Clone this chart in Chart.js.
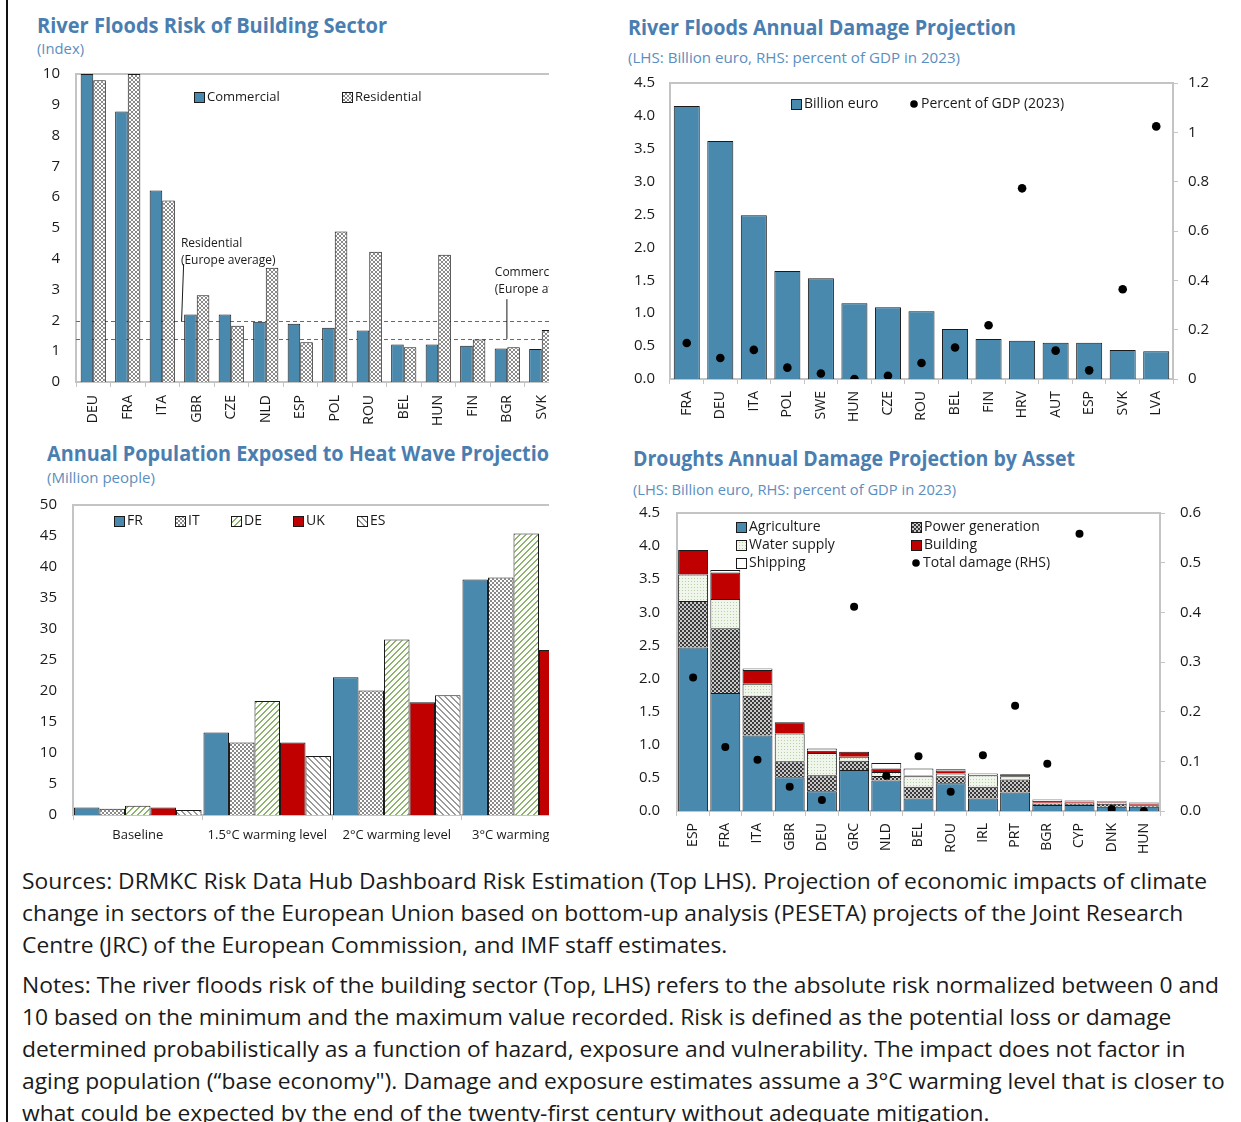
<!DOCTYPE html>
<html>
<head>
<meta charset="utf-8">
<title>Climate damage projections</title>
<script src="https://cdn.jsdelivr.net/npm/chart.js@4.4.1/dist/chart.umd.min.js"></script>
<style>
  html, body { margin: 0; padding: 0; background: #fff; }
  body { position: relative; width: 1241px; height: 1122px; overflow: hidden; font-family: "Open Sans", sans-serif; }
  .edge { position: absolute; left: 6px; top: 0; width: 2px; height: 1122px; background: #111; }
  .title { position: absolute; font-size: 21px; font-weight: 700; color: #4a7eb0; white-space: nowrap; line-height: 1; transform-origin: 0 0; }
  .sub { position: absolute; font-size: 14px; color: #5b8ec0; white-space: nowrap; line-height: 1; transform-origin: 0 0; }
  .holder { position: absolute; overflow: hidden; }
  .holder canvas { position: absolute; }
  .notes { position: absolute; left: 22px; font-size: 22px; line-height: 32px; color: #1a1a1a; white-space: nowrap; transform-origin: 0 0; }
</style>
</head>
<body>
<div class="edge"></div>

<div class="title" id="t1" style="left:37px;top:15px">River Floods Risk of Building Sector</div>
<div class="sub" id="s1" style="left:37px;top:42px">(Index)</div>
<div class="title" id="t2" style="left:628px;top:17px">River Floods Annual Damage Projection</div>
<div class="sub" id="s2" style="left:628px;top:51px">(LHS: Billion euro, RHS: percent of GDP in 2023)</div>
<div class="holder" style="left:0;top:440px;width:549px;height:50px">
  <div class="title" id="t3" style="left:47px;top:3px">Annual Population Exposed to Heat Wave Projections</div>
</div>
<div class="sub" id="s3" style="left:47px;top:471px">(Million people)</div>
<div class="title" id="t4" style="left:633px;top:448px">Droughts Annual Damage Projection by Asset</div>
<div class="sub" id="s4" style="left:633px;top:483px">(LHS: Billion euro, RHS: percent of GDP in 2023)</div>

<div class="holder" id="h1" style="left:0;top:0;width:549px;height:440px"></div>
<div class="holder" id="h2" style="left:560px;top:0;width:681px;height:440px"></div>
<div class="holder" id="h3" style="left:0;top:440px;width:549px;height:420px"></div>
<div class="holder" id="h4" style="left:560px;top:440px;width:681px;height:420px"></div>

<div class="notes" id="n1" style="top:864px">Sources: DRMKC Risk Data Hub Dashboard Risk Estimation (Top LHS). Projection of economic impacts of climate<br>change in sectors of the European Union based on bottom-up analysis (PESETA) projects of the Joint Research<br>Centre (JRC) of the European Commission, and IMF staff estimates.</div>
<div class="notes" id="n2" style="top:968px">Notes: The river floods risk of the building sector (Top, LHS) refers to the absolute risk normalized between 0 and<br>10 based on the minimum and the maximum value recorded. Risk is defined as the potential loss or damage<br>determined probabilistically as a function of hazard, exposure and vulnerability. The impact does not factor in<br>aging population (“base economy"). Damage and exposure estimates assume a 3°C warming level that is closer to<br>what could be expected by the end of the twenty-first century without adequate mitigation.</div>

<script>
// ---- top left: river floods risk index ----
const riskCountries = ['DEU', 'FRA', 'ITA', 'GBR', 'CZE', 'NLD', 'ESP', 'POL', 'ROU', 'BEL', 'HUN', 'FIN', 'BGR', 'SVK'];
const riskCommercial = [10.0, 8.78, 6.22, 2.19, 2.19, 1.96, 1.89, 1.76, 1.67, 1.22, 1.22, 1.18, 1.09, 1.07];
const riskResidential = [9.8, 10.0, 5.89, 2.82, 1.83, 3.71, 1.29, 4.89, 4.23, 1.13, 4.13, 1.38, 1.13, 1.69];
const riskAvgResidential = 1.98;
const riskAvgCommercial = 1.40;

// ---- top right: river floods annual damage ----
const floodCountries = ['FRA', 'DEU', 'ITA', 'POL', 'SWE', 'HUN', 'CZE', 'ROU', 'BEL', 'FIN', 'HRV', 'AUT', 'ESP', 'SVK', 'LVA'];
const floodBillion = [4.15, 3.62, 2.49, 1.64, 1.53, 1.15, 1.09, 1.03, 0.76, 0.61, 0.58, 0.55, 0.55, 0.44, 0.42];
const floodPctGdp = [0.146, 0.085, 0.118, 0.046, 0.022, 0.0, 0.013, 0.065, 0.128, 0.218, 0.773, 0.115, 0.035, 0.364, 1.024];

// ---- bottom left: population exposed to heat waves ----
const heatScenarios = ['Baseline', '1.5°C warming level', '2°C warming level', '3°C warming level'];
const heatFR = [1.2, 13.3, 22.2, 38.0];
const heatIT = [1.0, 11.7, 20.1, 38.3];
const heatDE = [1.5, 18.4, 28.3, 45.4];
const heatUK = [1.2, 11.7, 18.2, 26.6];
const heatES = [0.8, 9.5, 19.3, 30.0];

// ---- bottom right: droughts damage by asset ----
const droughtCountries = ['ESP', 'FRA', 'ITA', 'GBR', 'DEU', 'GRC', 'NLD', 'BEL', 'ROU', 'IRL', 'PRT', 'BGR', 'CYP', 'DNK', 'HUN'];
const droughtAgriculture = [2.47, 1.78, 1.14, 0.51, 0.30, 0.62, 0.46, 0.19, 0.42, 0.19, 0.28, 0.09, 0.09, 0.065, 0.065];
const droughtPower = [0.70, 0.98, 0.60, 0.24, 0.24, 0.14, 0.07, 0.175, 0.105, 0.175, 0.195, 0.02, 0.015, 0.045, 0.02];
const droughtWater = [0.40, 0.44, 0.18, 0.42, 0.335, 0.06, 0.06, 0.16, 0.04, 0.175, 0.05, 0.015, 0.02, 0.02, 0.01];
const droughtBuilding = [0.37, 0.40, 0.21, 0.17, 0.035, 0.075, 0.05, 0.01, 0.045, 0.005, 0.03, 0.03, 0.02, 0.01, 0.02];
const droughtShipping = [0.0, 0.04, 0.02, 0.0, 0.035, 0.0, 0.085, 0.105, 0.02, 0.02, 0.0, 0.02, 0.015, 0.01, 0.015];
const droughtTotalPct = [0.269, 0.129, 0.103, 0.049, 0.022, 0.411, 0.071, 0.110, 0.039, 0.112, 0.212, 0.095, 0.558, 0.004, 0.0];

Chart.defaults.font.family = '"Open Sans", sans-serif';
Chart.defaults.font.size = 14;
Chart.defaults.color = '#1a1a1a';
Chart.defaults.animation = false;
Chart.defaults.events = [];

const AXIS = '#c4c4c4';
const BLUE = '#4a89ae';
const RED = '#c00000';
const EDGE = '#1a1a1a';
const PAD_TOP = 32; // room above the plot; tick padding adds to the label overflow

// pixel hatch tiles, crisp at dpr 1
function hatch(bg, fg, size, dirs, thick) {
  const c = document.createElement('canvas');
  c.width = c.height = size;
  const g = c.getContext('2d');
  g.fillStyle = bg;
  g.fillRect(0, 0, size, size);
  g.fillStyle = fg;
  for (let i = 0; i < size; i++) {
    for (let k = 0; k < thick; k++) {
      if (dirs.includes('/')) g.fillRect((i + k) % size, size - 1 - i, 1, 1);
      if (dirs.includes('\\')) g.fillRect((i + k) % size, i, 1, 1);
    }
  }
  return g.createPattern(c, 'repeat');
}
function dots(bg, fg) {
  const c = document.createElement('canvas');
  c.width = c.height = 3;
  const g = c.getContext('2d');
  g.fillStyle = bg; g.fillRect(0, 0, 3, 3);
  g.fillStyle = fg; g.fillRect(1, 1, 1, 1);
  return g.createPattern(c, 'repeat');
}

const pat = {
  grayMesh: hatch('#ffffff', '#8a8a8a', 4, ['/', '\\'], 1),
  darkMesh: hatch('#c8c8c8', '#3a3a3a', 4, ['/', '\\'], 1),
  green: hatch('#ffffff', '#8cb46a', 6, ['/'], 2),
  grayStripe: hatch('#ffffff', '#9a9a9a', 6, ['\\'], 2),
  water: dots('#f1f6ec', '#b9d1a8')
};

// plotTop is the page y of the top of the plot area
function placeCanvas(holderId, pageLeft, plotTop, width, height) {
  const holder = document.getElementById(holderId);
  const cv = document.createElement('canvas');
  cv.width = width;
  cv.height = height + PAD_TOP;
  cv.style.left = (pageLeft - holder.offsetLeft) + 'px';
  cv.style.top = (plotTop - PAD_TOP - holder.offsetTop) + 'px';
  holder.appendChild(cv);
  return cv;
}

function catAxis(height, rotate, pad, size) {
  return {
    grid: { display: true, drawOnChartArea: false, drawTicks: true, tickLength: 5, color: AXIS, offset: true },
    border: { color: AXIS, width: 2 },
    ticks: { autoSkip: false, minRotation: rotate ? 90 : 0, maxRotation: rotate ? 90 : 0, padding: pad, font: { size: size } },
    afterFit: (s) => { s.height = height; }
  };
}

function valueAxis(max, step, pad, fmt, right) {
  return {
    position: right ? 'right' : 'left',
    min: 0,
    max: max,
    grid: right
      ? { display: true, drawOnChartArea: false, drawTicks: true, tickLength: 5, color: AXIS }
      : { display: false, drawTicks: false },
    border: { color: AXIS, width: 2 },
    ticks: { stepSize: step, padding: pad, callback: fmt, font: { size: 15 } },
    afterFit: (s) => { s.width = 50; }
  };
}

function frame(sides) {
  return {
    id: 'frame',
    beforeDatasetsDraw(chart) {
      const { ctx, chartArea: a } = chart;
      ctx.save();
      ctx.strokeStyle = AXIS;
      ctx.lineWidth = 2;
      ctx.beginPath();
      if (sides.includes('top')) { ctx.moveTo(a.left, a.top); ctx.lineTo(a.right, a.top); }
      if (sides.includes('right')) { ctx.moveTo(a.right, a.top); ctx.lineTo(a.right, a.bottom); }
      ctx.stroke();
      ctx.restore();
    }
  };
}

function legendBoxes(items, size) {
  return {
    id: 'legendBoxes',
    afterDraw(chart) {
      const { ctx, chartArea } = chart;
      ctx.save();
      ctx.font = size + 'px "Open Sans", sans-serif';
      ctx.textBaseline = 'middle';
      items.forEach((it) => {
        const x = chartArea.left + it.dx;
        const y = chartArea.top + it.dy;
        if (it.dot) {
          ctx.fillStyle = '#000';
          ctx.beginPath();
          ctx.arc(x + 4, y, 3.8, 0, Math.PI * 2);
          ctx.fill();
        } else {
          ctx.fillStyle = it.fill;
          ctx.fillRect(x, y - 5, 10, 10);
          ctx.strokeStyle = EDGE;
          ctx.lineWidth = 1;
          ctx.strokeRect(x + 0.5, y - 4.5, 10, 10);
        }
        ctx.fillStyle = '#1a1a1a';
        ctx.fillText(it.text, x + (it.dot ? 11 : 13), y);
      });
      ctx.restore();
    }
  };
}

// europe average lines + labels on the risk chart
const riskNotes = [
  { lines: ['Residential', '(Europe average)'], at: [2.54, 4.51], from: [2.62, 3.83], to: [2.56, riskAvgResidential] },
  { lines: ['Commercial', '(Europe average)'], at: [11.64, 3.54], from: [11.99, 2.69], to: [11.99, riskAvgCommercial] }
];
const riskLines = {
  id: 'riskLines',
  beforeDatasetsDraw(chart) {
    const { ctx, chartArea: a, scales: { y } } = chart;
    ctx.save();
    ctx.strokeStyle = '#d63a34';
    ctx.lineWidth = 1;
    ctx.setLineDash([4, 3]);
    [riskAvgResidential, riskAvgCommercial].forEach((v) => {
      const py = Math.round(y.getPixelForValue(v)) + 0.5;
      ctx.beginPath();
      ctx.moveTo(a.left, py);
      ctx.lineTo(a.right, py);
      ctx.stroke();
    });
    ctx.restore();
  },
  afterDatasetsDraw(chart) {
    const { ctx, scales: { x, y } } = chart;
    ctx.save();
    ctx.font = '12px "Open Sans", sans-serif';
    ctx.textBaseline = 'middle';
    ctx.fillStyle = '#1a1a1a';
    ctx.strokeStyle = '#1a1a1a';
    ctx.lineWidth = 1;
    riskNotes.forEach((n) => {
      const tx = x.getPixelForValue(n.at[0]);
      const ty = y.getPixelForValue(n.at[1]);
      n.lines.forEach((t, i) => ctx.fillText(t, tx, ty + i * 17));
      ctx.beginPath();
      ctx.moveTo(x.getPixelForValue(n.from[0]), y.getPixelForValue(n.from[1]));
      ctx.lineTo(x.getPixelForValue(n.to[0]), y.getPixelForValue(n.to[1]));
      ctx.stroke();
    });
    ctx.restore();
  }
};

const one = (v) => Number(v).toFixed(1);
const plain = (v) => String(+Number(v).toFixed(1));
const noTip = { legend: { display: false }, tooltip: { enabled: false } };
const pads = (right) => ({ padding: { top: PAD_TOP, right: right, left: 0, bottom: 0 } });

// top left
new Chart(placeCanvas('h1', 26, 74, 545, 358), {
  type: 'bar',
  data: {
    labels: riskCountries,
    datasets: [
      { label: 'Commercial', data: riskCommercial, backgroundColor: BLUE, borderColor: EDGE, borderWidth: 1 },
      { label: 'Residential', data: riskResidential, backgroundColor: pat.grayMesh, borderColor: EDGE, borderWidth: 1 }
    ]
  },
  options: {
    responsive: false,
    layout: pads(12),
    datasets: { bar: { categoryPercentage: 0.73, barPercentage: 1.0 } },
    plugins: noTip,
    scales: {
      x: catAxis(50, true, 8, 14),
      y: valueAxis(10, 1, 16, (v) => v, false)
    }
  },
  plugins: [frame(['top']), riskLines, legendBoxes([
    { text: 'Commercial', fill: BLUE, dx: 118, dy: 23 },
    { text: 'Residential', fill: pat.grayMesh, dx: 266, dy: 23 }
  ], 13)]
});

// top right
new Chart(placeCanvas('h2', 620, 83, 603, 346), {
  type: 'bar',
  data: {
    labels: floodCountries,
    datasets: [
      { label: 'Billion euro', data: floodBillion, backgroundColor: BLUE, borderColor: EDGE, borderWidth: 1, yAxisID: 'y', order: 1 },
      { type: 'line', label: 'Percent of GDP (2023)', data: floodPctGdp, yAxisID: 'y2', showLine: false,
        pointRadius: 4.3, pointBackgroundColor: '#000', pointBorderWidth: 0, order: 0 }
    ]
  },
  options: {
    responsive: false,
    layout: pads(0),
    datasets: { bar: { categoryPercentage: 0.8, barPercentage: 0.97 } },
    plugins: noTip,
    scales: {
      x: catAxis(50, true, 7, 14),
      y: valueAxis(4.5, 0.5, 15, one, false),
      y2: valueAxis(1.2, 0.2, 10, plain, true)
    }
  },
  plugins: [frame(['top']), legendBoxes([
    { text: 'Billion euro', fill: BLUE, dx: 121, dy: 21 },
    { text: 'Percent of GDP (2023)', dot: true, dx: 240, dy: 21 }
  ], 14)]
});

// bottom left
new Chart(placeCanvas('h3', 23, 505, 580, 350), {
  type: 'bar',
  data: {
    labels: heatScenarios,
    datasets: [
      { label: 'FR', data: heatFR, backgroundColor: BLUE, borderColor: EDGE, borderWidth: 1 },
      { label: 'IT', data: heatIT, backgroundColor: pat.grayMesh, borderColor: EDGE, borderWidth: 1 },
      { label: 'DE', data: heatDE, backgroundColor: pat.green, borderColor: EDGE, borderWidth: 1 },
      { label: 'UK', data: heatUK, backgroundColor: RED, borderColor: EDGE, borderWidth: 1 },
      { label: 'ES', data: heatES, backgroundColor: pat.grayStripe, borderColor: EDGE, borderWidth: 1 }
    ]
  },
  options: {
    responsive: false,
    layout: pads(12),
    datasets: { bar: { categoryPercentage: 0.985, barPercentage: 1.0 } },
    plugins: noTip,
    scales: {
      x: catAxis(40, false, 7, 13),
      y: valueAxis(50, 5, 16, (v) => v, false)
    }
  },
  plugins: [frame(['top']), legendBoxes([
    { text: 'FR', fill: BLUE, dx: 41, dy: 16 },
    { text: 'IT', fill: pat.grayMesh, dx: 102, dy: 16 },
    { text: 'DE', fill: pat.green, dx: 158, dy: 16 },
    { text: 'UK', fill: RED, dx: 220, dy: 16 },
    { text: 'ES', fill: pat.grayStripe, dx: 284, dy: 16 }
  ], 14)]
});

// bottom right
const stackSeg = (label, data, fill) => ({ label, data, backgroundColor: fill, borderColor: EDGE, borderWidth: 1, yAxisID: 'y', order: 1 });
new Chart(placeCanvas('h4', 627, 513, 583, 348), {
  type: 'bar',
  data: {
    labels: droughtCountries,
    datasets: [
      stackSeg('Agriculture', droughtAgriculture, BLUE),
      stackSeg('Power generation', droughtPower, pat.darkMesh),
      stackSeg('Water supply', droughtWater, pat.water),
      stackSeg('Building', droughtBuilding, RED),
      stackSeg('Shipping', droughtShipping, '#ffffff'),
      { type: 'line', label: 'Total damage (RHS)', data: droughtTotalPct, yAxisID: 'y2', showLine: false,
        pointRadius: 4, pointBackgroundColor: '#000', pointBorderWidth: 0, order: 0 }
    ]
  },
  options: {
    responsive: false,
    layout: pads(0),
    datasets: { bar: { categoryPercentage: 0.93, barPercentage: 1.0 } },
    plugins: noTip,
    scales: {
      x: Object.assign(catAxis(50, true, 7, 14), { stacked: true }),
      y: Object.assign(valueAxis(4.5, 0.5, 17, one, false), { stacked: true }),
      y2: Object.assign(valueAxis(0.6, 0.1, 15, one, true), { stacked: false })
    }
  },
  plugins: [frame(['top', 'right']), legendBoxes([
    { text: 'Agriculture', fill: BLUE, dx: 59, dy: 14 },
    { text: 'Water supply', fill: pat.water, dx: 59, dy: 32 },
    { text: 'Shipping', fill: '#ffffff', dx: 59, dy: 50 },
    { text: 'Power generation', fill: pat.darkMesh, dx: 234, dy: 14 },
    { text: 'Building', fill: RED, dx: 234, dy: 32 },
    { text: 'Total damage (RHS)', dot: true, dx: 235, dy: 50 }
  ], 14)]
});

// squeeze text horizontally to the reference widths
const measureCtx = document.createElement('canvas').getContext('2d');
function textWidth(el, text) {
  const cs = getComputedStyle(el);
  measureCtx.font = cs.fontWeight + ' ' + cs.fontSize + ' ' + cs.fontFamily;
  return measureCtx.measureText(text).width;
}
function fit(id, target, text) {
  const el = document.getElementById(id);
  el.style.transform = 'scaleX(' + (target / textWidth(el, text || el.textContent)) + ')';
}
fit('t1', 350);
fit('t2', 388);
fit('t3', 502, 'Annual Population Exposed to Heat Wave Projectio');
fit('t4', 442);
fit('s1', 47);
fit('s2', 332);
fit('s3', 108);
fit('s4', 323);
const n1 = document.getElementById('n1');
const noteScale = 1185 / textWidth(n1, 'Sources: DRMKC Risk Data Hub Dashboard Risk Estimation (Top LHS). Projection of economic impacts of climate');
['n1', 'n2'].forEach((id) => { document.getElementById(id).style.transform = 'scaleX(' + noteScale + ')'; });
</script>
</body>
</html>
